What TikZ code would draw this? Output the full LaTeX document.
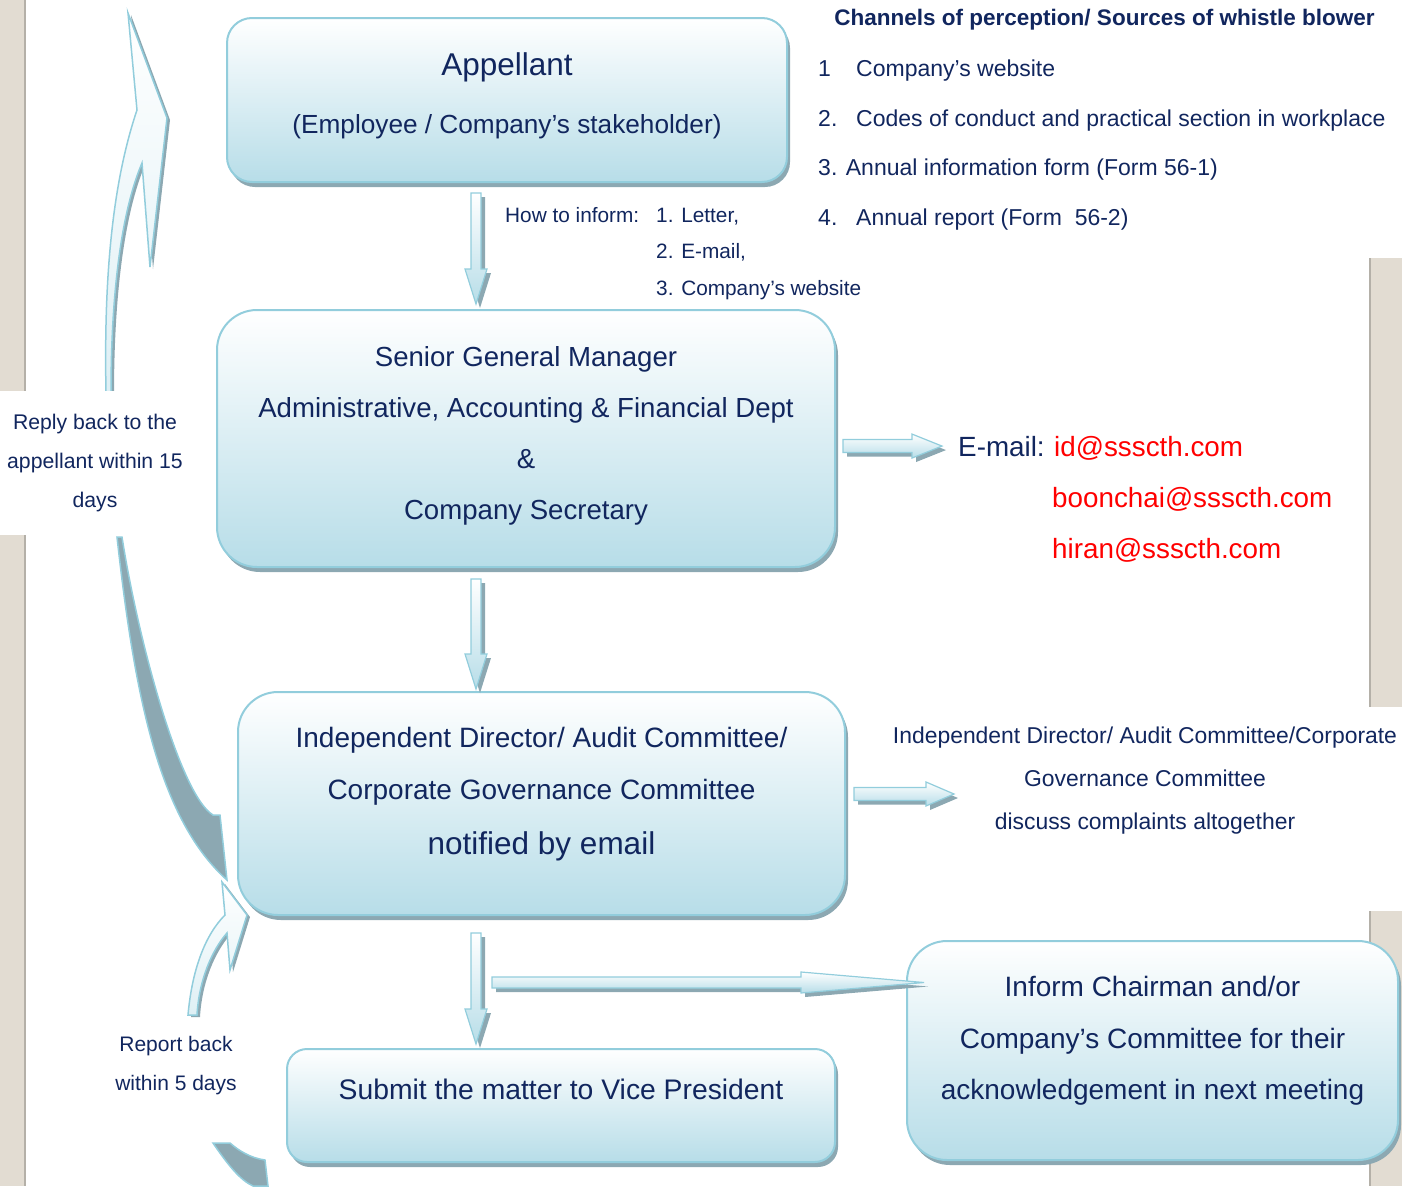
\documentclass[tikz,border=0pt]{standalone}
\usepackage{fontspec}
\setmainfont{Liberation Sans}
\usetikzlibrary{calc,shadows}
\definecolor{txtblue}{RGB}{17,38,94}
\definecolor{boxline}{RGB}{146,205,220}
\definecolor{boxfill}{RGB}{183,221,232}
\definecolor{boxshade}{RGB}{140,168,178}
\definecolor{strip}{RGB}{226,220,210}
\definecolor{stripedge}{RGB}{180,176,168}
\definecolor{mailred}{RGB}{255,0,0}

\tikzset{
  stepbox/.style={draw=boxline, line width=2pt, top color=white, bottom color=boxfill,
    rounded corners=#1, align=center,
    drop shadow={shadow xshift=3pt, shadow yshift=-5pt, fill=boxshade, opacity=1}},
  flowarrow/.style={draw=boxline, line width=1.2pt, top color=white, bottom color=boxfill,
    drop shadow={shadow xshift=4pt, shadow yshift=-4pt, fill=boxshade, opacity=1}},
  curvearrow/.style={draw=boxline, line width=1.5pt, top color=white, bottom color=boxfill!45,
    drop shadow={shadow xshift=3pt, shadow yshift=-2pt, fill=boxshade, opacity=1}},
  curvetail/.style={draw=boxline, line width=1.5pt, fill=boxshade},
  listtext/.style={anchor=base west, inner sep=0pt, font=\fontsize{23}{23}\selectfont},
  smalltext/.style={anchor=base west, inner sep=0pt, font=\fontsize{20.8}{20.8}\selectfont},
  mailtext/.style={anchor=base west, inner sep=0pt, font=\fontsize{27.8}{27.8}\selectfont, text=mailred}
}

% extra depth below the last line, lifts the text in its box
\newcommand{\padbelow}[1]{\rule[-#1]{0pt}{#1}}

% block arrow pointing down, from #1 to #2 (same x)
\newcommand{\downblock}[2]{%
  \path[flowarrow] let \p1=(#1), \p2=(#2) in
    (\x1-5pt,\y1) -- (\x1+5pt,\y1) -- (\x1+5pt,\y2+35pt) -- (\x1+11pt,\y2+35pt)
    -- (\x1,\y2) -- (\x1-11pt,\y2+35pt) -- (\x1-5pt,\y2+35pt) -- cycle;}

% block arrow pointing right: from #1 to #2, shaft half #3, head half #4, head length #5
\newcommand{\rightblock}[5]{%
  \path[flowarrow] let \p1=(#1), \p2=(#2) in
    (\x1,\y1+#3) -- (\x2-#5,\y1+#3) -- (\x2-#5,\y1+#4) -- (\x2,\y1)
    -- (\x2-#5,\y1-#4) -- (\x2-#5,\y1-#3) -- (\x1,\y1-#3) -- cycle;}

\begin{document}
\begin{tikzpicture}[x=1pt, y=-1pt, text=txtblue]
\useasboundingbox (0,0) rectangle (1402,1186);

% page strips
\fill[strip] (0,0) rectangle (26,1186);
\draw[stripedge, line width=1.5pt] (25,0) -- (25,1186);
\fill[strip] (1369,258) rectangle (1402,707);
\fill[strip] (1369,911) rectangle (1402,1186);
\draw[stripedge, line width=1.5pt] (1370,258) -- (1370,707) (1370,911) -- (1370,1186);

% curved arrows on the left
\path[curvearrow] (106,393) .. controls (104,290) and (110,190) .. (137,110) -- (128,13)
  -- (167,118) -- (150,267) -- (142,163) .. controls (122,210) and (111,290) .. (111,393) -- cycle;
\path[curvetail] (117,537) .. controls (135,700) and (160,820) .. (227,880) -- (220,815)
  -- (213,815) .. controls (180,795) and (138,640) .. (122,537) -- cycle;
\path[curvearrow] (188,1015) .. controls (192,970) and (205,935) .. (225,915) -- (222,882)
  -- (247,915) -- (230,970) -- (227,933) .. controls (212,950) and (199,980) .. (197,1015) -- cycle;
\path[curvetail] (213,1143) .. controls (228,1165) and (240,1180) .. (253,1186) -- (268,1186)
  -- (265,1160) .. controls (250,1158) and (238,1150) .. (230,1143) -- cycle;

\node[fill=white, minimum width=190pt, minimum height=144pt, align=center,
  font=\fontsize{21.2}{39}\selectfont] (reply) at (95,463) {Reply back to the\\appellant within 15\\days};
\node[align=center, font=\fontsize{21}{39}\selectfont] (report) at (176,1066) {Report back\\within 5 days};

% boxes
\node[stepbox=25pt, minimum width=560pt, minimum height=164pt, font=\fontsize{26.2}{58}\selectfont]
  (app) at (507,100) {{\fontsize{31.5}{58}\selectfont Appellant}\\(Employee / Company’s stakeholder)\padbelow{14pt}};
\node[stepbox=40pt, minimum width=618pt, minimum height=257pt, font=\fontsize{27.6}{51}\selectfont]
  (sgm) at (526,438.5) {Senior General Manager\\Administrative, Accounting \& Financial Dept\\\&\\Company Secretary\padbelow{12pt}};
\node[stepbox=40pt, minimum width=607pt, minimum height=223pt, font=\fontsize{28}{52}\selectfont]
  (idc) at (541.5,803.5) {Independent Director/ Audit Committee/\\Corporate Governance Committee\\[3pt]{\fontsize{31.5}{52}\selectfont notified by email}\padbelow{26pt}};
\node[stepbox=20pt, minimum width=548pt, minimum height=113pt, font=\fontsize{28.3}{51}\selectfont]
  (vp) at (561,1105.5) {Submit the matter to Vice President\padbelow{32pt}};
\node[stepbox=40pt, minimum width=491pt, minimum height=219pt, font=\fontsize{28}{51.5}\selectfont]
  (chair) at (1152.5,1050.5) {Inform Chairman and/or\\Company’s Committee for their\\acknowledgement in next meeting\padbelow{25pt}};

% channels
\node[anchor=base, inner sep=0pt, font=\bfseries\fontsize{22.5}{22.5}\selectfont] (chan) at (1104.5,25) {Channels of perception/ Sources of whistle blower};
\node[listtext] (ch1) at (818,76) {1};
\node[listtext] (ch1t) at (856,76) {Company’s website};
\node[listtext] (ch2) at (818,126) {2.};
\node[listtext] (ch2t) at (856,126) {Codes of conduct and practical section in workplace};
\node[listtext] (ch3) at (818,175) {3. Annual information form (Form 56-1)};
\node[listtext] (ch4) at (818,225) {4.};
\node[listtext] (ch4t) at (856,225) {Annual report (Form~~56-2)};

% how to inform
\node[smalltext] (how) at (505,222) {How to inform:};
\node[smalltext] (how1) at (656,222) {1. Letter,};
\node[smalltext] (how2) at (656,258) {2. E-mail,};
\node[smalltext] (how3) at (656,295) {3. Company’s website};

% mail addresses
\node[mailtext, text=txtblue] (mail) at (958,456) {E-mail:};
\node[mailtext] (mail1) at (1054,456) {id@ssscth.com};
\node[mailtext] (mail2) at (1052,507) {boonchai@ssscth.com};
\node[mailtext] (mail3) at (1052,558) {hiran@ssscth.com};

% joint discussion
\node[align=center, font=\fontsize{22.9}{43}\selectfont] (disc) at (1145,781)
  {Independent Director/ Audit Committee/Corporate\\Governance Committee\\discuss complaints altogether};

% connectors
\coordinate (spine) at (476,0);
\coordinate (discin) at (954,794);
\coordinate (chairin) at ($(chair.west)+(18,-68)$);
\downblock{$(app.south -| spine)+(0,10)$}{$(sgm.north -| spine)+(0,-5)$}
\downblock{$(sgm.south -| spine)+(0,11)$}{$(idc.north -| spine)+(0,-2)$}
\downblock{$(idc.south -| spine)+(0,17)$}{$(vp.north -| spine)+(0,-4)$}
\rightblock{$(sgm.east |- mail.west)+(7,0)$}{$(mail.west)+(-16,0)$}{6.5pt}{12pt}{30pt}
\rightblock{$(idc.east |- discin)+(8,0)$}{discin}{6.5pt}{12pt}{28pt}
\rightblock{$(spine |- chairin)+(16,0)$}{chairin}{5.5pt}{10.5pt}{123pt}

\end{tikzpicture}
\end{document}
